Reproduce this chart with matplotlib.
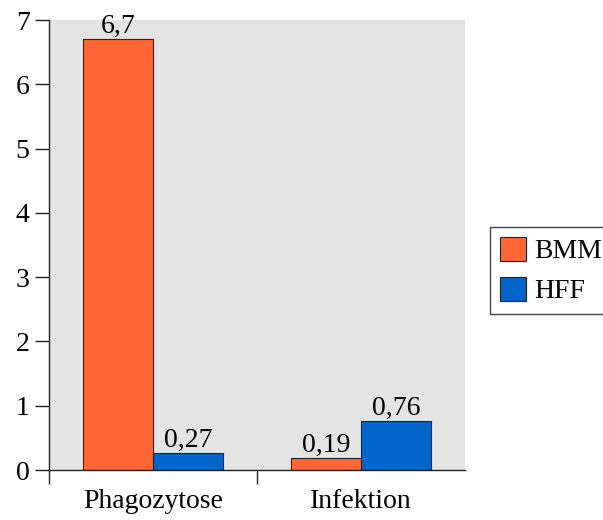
import matplotlib.pyplot as plt
import numpy as np

categories = ["Phagozytose", "Infektion"]
series_names = ["BMM", "HFF"]
bmm_values = [6.7, 0.19]
hff_values = [0.27, 0.76]
bar_colors = ["#FF6633", "#0066CC"]

plt.rcParams["font.family"] = ["Liberation Serif", "DejaVu Serif"]
plt.rcParams["font.size"] = 20

fig = plt.figure(figsize=(6.03, 5.2), dpi=100)
ax = fig.add_axes([49 / 603, 50 / 520, 416 / 603, 450 / 520])
ax.set_facecolor("#E4E4E4")

x = np.arange(len(categories))
width = 0.335

for i, (name, vals) in enumerate(zip(series_names, [bmm_values, hff_values])):
    offs = (i - 0.5) * width
    bars = ax.bar(x + offs, vals, width, color=bar_colors[i], edgecolor="#222222",
                  linewidth=0.8, label=name, zorder=3)
    for b, v in zip(bars, vals):
        txt = f"{v:g}".replace(".", ",")
        ax.text(b.get_x() + b.get_width() / 2, v, txt,
                ha="center", va="bottom", fontsize=20, zorder=4)

ax.set_xlim(-0.5, 1.5)
ax.set_ylim(0, 7)
ax.set_yticks(range(0, 8))
ax.set_xticks(x)
ax.set_xticklabels(categories)
ax.set_xticks([-0.5, 0.5], minor=True)
ax.tick_params(axis="x", which="major", length=0, pad=14)
ax.tick_params(axis="x", which="minor", length=10, width=1, color="#222222")
ax.tick_params(axis="y", length=10, width=1, color="#222222", pad=4)

ax.spines["top"].set_visible(False)
ax.spines["right"].set_visible(False)
for s in ["left", "bottom"]:
    ax.spines[s].set_color("#222222")
    ax.spines[s].set_linewidth(1)
    ax.spines[s].set_zorder(5)

fig.legend(loc="center left", bbox_to_anchor=(490 / 603, 1 - 270.5 / 520),
           borderaxespad=0, fancybox=False, edgecolor="#444444", framealpha=1,
           handlelength=0.95, handleheight=0.95, handletextpad=0.3,
           borderpad=0.35, labelspacing=0.45, fontsize=20)

fig.savefig("out.png", dpi=100)
